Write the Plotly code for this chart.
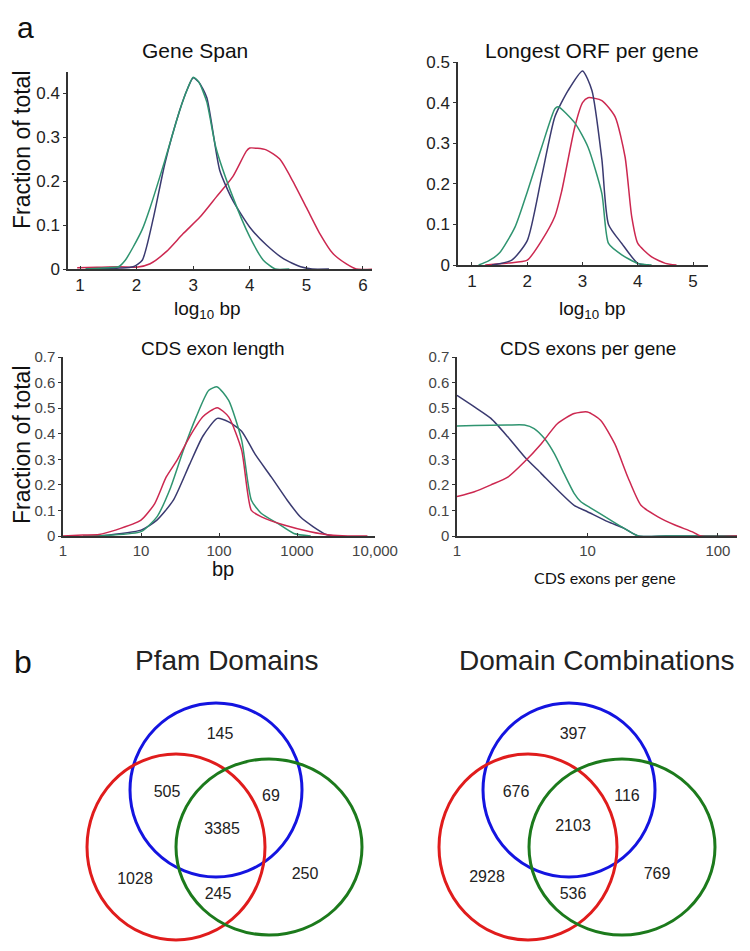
import plotly.graph_objects as go

W, H = 750, 951
OFF = 8  # the page body adds an 8px margin; the figure is shrunk to fit the window

# ---------------- data ----------------
# Panel 1: Gene Span (x = log10 bp)
gs_green_x = [1.1, 1.5, 1.68, 1.8, 1.94, 2.1, 2.24, 2.5, 2.76, 2.9, 3.0, 3.1, 3.24, 3.4, 3.7, 4.0, 4.24, 4.45, 4.7]
gs_green_y = [0.0, 0.003, 0.005, 0.02, 0.05, 0.09, 0.14, 0.247, 0.36, 0.41, 0.436, 0.425, 0.38, 0.277, 0.164, 0.073, 0.02, 0.0, 0.0]
gs_purple_x = [1.1, 1.7, 1.94, 2.1, 2.3, 2.5, 2.76, 2.9, 3.0, 3.1, 3.24, 3.47, 3.7, 4.0, 4.3, 4.6, 4.9, 5.1, 5.4]
gs_purple_y = [0.0, 0.002, 0.005, 0.02, 0.118, 0.24, 0.36, 0.41, 0.435, 0.425, 0.39, 0.224, 0.156, 0.095, 0.054, 0.023, 0.005, 0.0, 0.0]
gs_red_x = [0.95, 1.3, 1.7, 2.0, 2.24, 2.53, 2.82, 3.12, 3.41, 3.7, 3.94, 4.0, 4.29, 4.53, 4.76, 5.0, 5.24, 5.47, 5.7, 5.88, 6.25]
gs_red_y = [0.003, 0.004, 0.005, 0.004, 0.012, 0.04, 0.08, 0.118, 0.164, 0.21, 0.268, 0.275, 0.271, 0.25, 0.2, 0.14, 0.08, 0.035, 0.012, 0.0, 0.0]

# Panel 2: Longest ORF per gene (x = log10 bp)
orf_green_x = [1.12, 1.3, 1.5, 1.78, 2.0, 2.26, 2.5, 2.56, 2.86, 3.1, 3.35, 3.47, 3.71, 4.0, 4.25]
orf_green_y = [0.0, 0.01, 0.03, 0.094, 0.18, 0.29, 0.385, 0.39, 0.35, 0.29, 0.176, 0.053, 0.025, 0.004, 0.0]
orf_purple_x = [1.36, 1.72, 2.0, 2.26, 2.5, 2.74, 3.0, 3.17, 3.35, 3.47, 3.71, 4.0, 4.2]
orf_purple_y = [0.0, 0.012, 0.06, 0.217, 0.365, 0.43, 0.478, 0.43, 0.26, 0.1, 0.053, 0.004, 0.0]
orf_red_x = [1.24, 1.66, 2.0, 2.26, 2.5, 2.62, 2.86, 3.0, 3.1, 3.35, 3.59, 3.77, 3.89, 4.0, 4.25, 4.5, 4.7]
orf_red_y = [0.0, 0.005, 0.012, 0.06, 0.12, 0.18, 0.34, 0.4, 0.412, 0.405, 0.365, 0.266, 0.119, 0.053, 0.02, 0.004, 0.0]

# Panel 3: CDS exon length (bp)
el_green_x = [1.8, 3.8, 10, 16, 24, 35, 51, 74, 95, 133, 195, 260, 350, 560, 910, 1500]
el_green_y = [0.0, 0.003, 0.017, 0.075, 0.19, 0.336, 0.466, 0.57, 0.583, 0.53, 0.375, 0.14, 0.088, 0.05, 0.01, 0.0]
el_red_x = [1.0, 1.8, 2.9, 4.7, 10, 15, 21, 29, 42, 62, 95, 133, 195, 260, 350, 680, 1480, 2630, 4500, 8000]
el_red_y = [0.0, 0.004, 0.006, 0.023, 0.062, 0.127, 0.23, 0.297, 0.388, 0.466, 0.502, 0.466, 0.336, 0.1, 0.075, 0.043, 0.017, 0.004, 0.0, 0.0]
el_purple_x = [2.9, 10, 16, 26, 42, 62, 95, 133, 195, 290, 470, 750, 1100, 1620, 2370, 3000]
el_purple_y = [0.0, 0.023, 0.062, 0.14, 0.28, 0.39, 0.46, 0.446, 0.41, 0.32, 0.23, 0.14, 0.075, 0.036, 0.006, 0.0]

# Panel 4: CDS exons per gene
ex_purple_x = [1.0, 1.36, 1.82, 2.45, 3.29, 4.41, 5.9, 7.9, 10, 14.3, 19.1, 24.5, 40, 140]
ex_purple_y = [0.55, 0.505, 0.46, 0.388, 0.31, 0.245, 0.18, 0.12, 0.095, 0.056, 0.03, 0.0, 0.0, 0.0]
ex_green_x = [1.0, 1.36, 2.45, 3.29, 3.9, 4.7, 5.6, 6.6, 7.9, 8.9, 10.7, 14.3, 19.1, 24.5, 40, 140]
ex_green_y = [0.43, 0.432, 0.434, 0.434, 0.42, 0.38, 0.32, 0.245, 0.167, 0.134, 0.108, 0.069, 0.03, 0.0, 0.0, 0.0]
ex_red_x = [1.0, 1.36, 1.82, 2.45, 3.29, 4.41, 5.9, 7.9, 10, 12.6, 16.2, 20.4, 25.7, 34.7, 46.8, 63.1, 74, 140]
ex_red_y = [0.154, 0.173, 0.2, 0.23, 0.29, 0.36, 0.44, 0.479, 0.485, 0.453, 0.36, 0.23, 0.12, 0.075, 0.043, 0.017, 0.0, 0.0]

# Venn diagram counts (regions)
venn_titles = ["Pfam Domains", "Domain Combinations"]
pfam_counts = [145, 505, 69, 3385, 1028, 245, 250]
combo_counts = [397, 676, 116, 2103, 2928, 536, 769]

# ---------------- styles ----------------
GREEN = "#2f9470"
PURPLE = "#3a3a70"
RED = "#cc2850"
FONT = "Liberation Sans, Arial, Helvetica, sans-serif"

FW, FH = W - OFF, H - OFF


def px_x(p):
    return (p - OFF) / FW


def px_y(p):
    return 1 - (p - OFF) / FH


fig = go.Figure()


def add_lines(xs_ys, xa, ya):
    for (xs, ys, col) in xs_ys:
        fig.add_trace(go.Scatter(x=xs, y=ys, mode="lines",
                                 line=dict(color=col, width=1.5, shape="spline", smoothing=0.6),
                                 xaxis=xa, yaxis=ya, showlegend=False, hoverinfo="skip"))


add_lines([(gs_red_x, gs_red_y, RED), (gs_purple_x, gs_purple_y, PURPLE), (gs_green_x, gs_green_y, GREEN)], "x", "y")
add_lines([(orf_red_x, orf_red_y, RED), (orf_purple_x, orf_purple_y, PURPLE), (orf_green_x, orf_green_y, GREEN)], "x2", "y2")
add_lines([(el_purple_x, el_purple_y, PURPLE), (el_green_x, el_green_y, GREEN), (el_red_x, el_red_y, RED)], "x3", "y3")
add_lines([(ex_purple_x, ex_purple_y, PURPLE), (ex_green_x, ex_green_y, GREEN), (ex_red_x, ex_red_y, RED)], "x4", "y4")

base_axis = dict(showline=True, linecolor="#333", linewidth=1.5, showgrid=False, zeroline=False,
                 tickcolor="#333", mirror=False, automargin=False)
xax = dict(ticks="inside", ticklen=3, **base_axis)
yax = dict(ticks="outside", ticklen=3, **base_axis)
tick_big = dict(family=FONT, size=17, color="#222")
tick_small = dict(family=FONT, size=15, color="#444")

layout = dict(
    template="none",
    width=FW, height=FH, margin=dict(l=0, r=0, t=0, b=0, pad=0, autoexpand=False),
    paper_bgcolor="white", plot_bgcolor="rgba(0,0,0,0)", showlegend=False,
    xaxis=dict(domain=[px_x(68), px_x(372)], range=[0.788, 6.16], tickvals=[1, 2, 3, 4, 5, 6],
               tickfont=tick_big, anchor="y", **xax),
    yaxis=dict(domain=[px_y(269), px_y(72)], range=[0, 0.448], tickvals=[0, 0.1, 0.2, 0.3, 0.4],
               ticktext=["0", "0.1", "0.2", "0.3", "0.4"], tickfont=tick_big, anchor="x", **yax),
    xaxis2=dict(domain=[px_x(458), px_x(708)], range=[0.747, 5.27], tickvals=[1, 2, 3, 4, 5],
                tickfont=tick_big, anchor="y2", **xax),
    yaxis2=dict(domain=[px_y(265), px_y(62)], range=[0, 0.5], tickvals=[0, 0.1, 0.2, 0.3, 0.4, 0.5],
                ticktext=["0", "0.1", "0.2", "0.3", "0.4", "0.5"], tickfont=tick_big, anchor="x2", **yax),
    xaxis3=dict(domain=[px_x(63), px_x(375)], type="log", range=[0, 4], tickvals=[1, 10, 100, 1000, 10000],
                ticktext=["1", "10", "100", "1000", "10,000"], tickfont=tick_small, anchor="y3", **xax),
    yaxis3=dict(domain=[px_y(536), px_y(357)], range=[0, 0.7], tickvals=[0, 0.1, 0.2, 0.3, 0.4, 0.5, 0.6, 0.7],
                ticktext=["0", "0.1", "0.2", "0.3", "0.4", "0.5", "0.6", "0.7"], tickfont=tick_small,
                anchor="x3", **yax),
    xaxis4=dict(domain=[px_x(457), px_x(737)], type="log", range=[0, 2.146], tickvals=[1, 10, 100],
                ticktext=["1", "10", "100"], tickfont=tick_small, anchor="y4", **xax),
    yaxis4=dict(domain=[px_y(536), px_y(357)], range=[0, 0.7], tickvals=[0, 0.1, 0.2, 0.3, 0.4, 0.5, 0.6, 0.7],
                ticktext=["0", "0.1", "0.2", "0.3", "0.4", "0.5", "0.6", "0.7"], tickfont=tick_small,
                anchor="x4", **yax),
    # pixel-space overlay axes for the Venn diagrams
    xaxis5=dict(domain=[0, 1], range=[OFF, W], visible=False, anchor="y5", fixedrange=True, automargin=False),
    yaxis5=dict(domain=[0, 1], range=[H, OFF], visible=False, anchor="x5", fixedrange=True, automargin=False),
)
fig.update_layout(**layout)

# ---------------- text ----------------
def ann(text, x, y, size, color="#111", angle=0, family=FONT):
    fig.add_annotation(text=text, x=px_x(x), y=px_y(y), xref="paper", yref="paper", showarrow=False,
                       font=dict(family=family, size=size, color=color), textangle=angle,
                       xanchor="center", yanchor="middle")


ann("a", 25, 27, 30)
ann("b", 23, 662, 32)
ann("Gene Span", 195, 51, 21)
ann("Longest ORF per gene", 592, 50, 21)
ann("CDS exon length", 213, 348, 19)
ann("CDS exons per gene", 588, 348, 19)
ann("Fraction of total", 22, 150, 23, angle=-90)
ann("Fraction of total", 22, 445, 23, angle=-90)
ann("log<sub>10</sub> bp", 208, 310, 19)
ann("log<sub>10</sub> bp", 592, 310, 19)
ann("bp", 223, 569, 20)
ann("CDS exons per gene", 605, 577, 16, family="Lato, Open Sans, sans-serif")
ann(venn_titles[0], 227, 660, 28, color="#222")
ann(venn_titles[1], 596, 660, 28, color="#222")

# ---------------- Venn diagrams ----------------
VBLUE, VRED, VGREEN = "#1414e0", "#e01c1c", "#1c7a1c"
venn_layouts = [
    dict(circles=[(216, 790, 86, 87, VBLUE), (176, 847, 89, 93, VRED), (269, 847, 93, 88, VGREEN)],
         labels=[(220, 735), (167, 793), (271, 797), (222, 830), (135, 880), (218, 895), (305, 875)],
         counts=pfam_counts),
    dict(circles=[(569, 790, 86, 87, VBLUE), (528, 847, 89, 93, VRED), (622, 847, 93, 88, VGREEN)],
         labels=[(573, 735), (516, 793), (627, 797), (573, 827), (487, 878), (573, 895), (657, 875)],
         counts=combo_counts),
]
for v in venn_layouts:
    for (cx, cy, rx, ry, col) in v["circles"]:
        fig.add_shape(type="circle", xref="x5", yref="y5", x0=cx - rx, x1=cx + rx, y0=cy - ry, y1=cy + ry,
                      line=dict(color=col, width=3))
    fig.add_trace(go.Scatter(x=[p[0] for p in v["labels"]], y=[p[1] for p in v["labels"]],
                             text=[str(c) for c in v["counts"]], mode="text", xaxis="x5", yaxis="y5",
                             textfont=dict(family=FONT, size=16, color="#222"), showlegend=False,
                             hoverinfo="skip"))

fig.write_html("out.html")
